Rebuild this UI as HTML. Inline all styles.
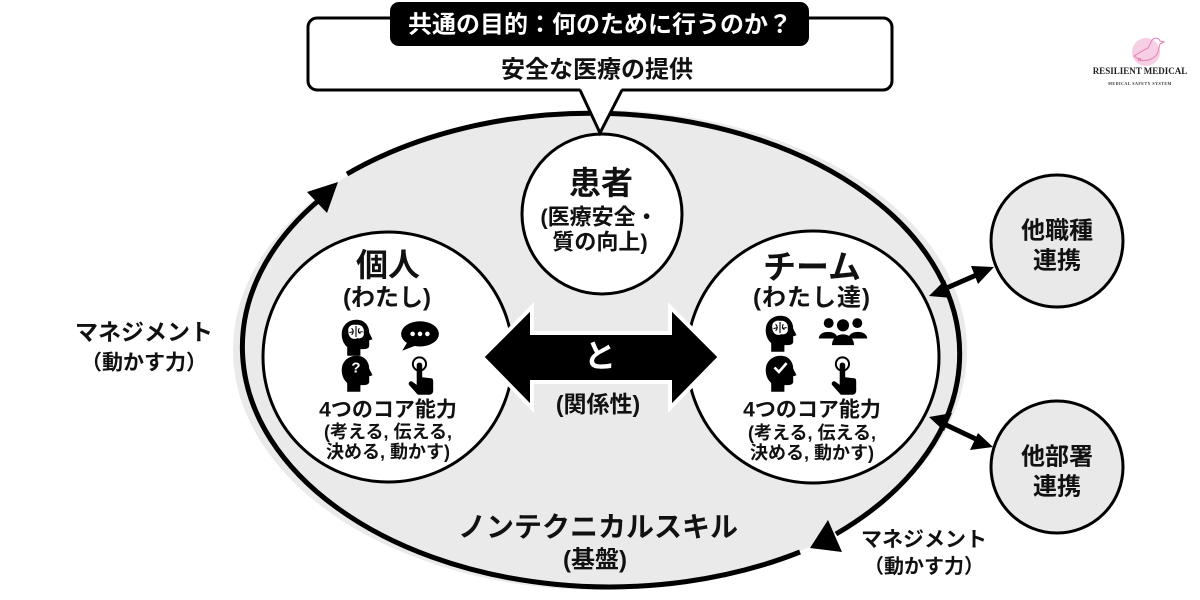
<!DOCTYPE html>
<html><head><meta charset="utf-8"><style>
html,body{margin:0;padding:0;background:#fff;}
svg{display:block;}
text{font-family:"Liberation Sans","Noto Sans CJK JP",sans-serif;font-weight:bold;}
</style></head><body>
<svg width="1200" height="600" viewBox="0 0 1200 600" xmlns="http://www.w3.org/2000/svg">
<rect width="1200" height="600" fill="#fff"/>
<!-- outer ellipse fill -->
<ellipse cx="600" cy="350" rx="367" ry="240" fill="#eaeaea"/>
<!-- ellipse strokes with gaps -->
<path d="M 347 174 A 367 240 0 1 1 836 534" fill="none" stroke="#000" stroke-width="5"/>
<path d="M 800 552 A 367 240 0 0 1 318 201" fill="none" stroke="#000" stroke-width="5"/>
<polygon points="338,182 307,192 327,213" fill="#000"/>
<polygon points="810,548 828,520 842,552" fill="#000"/>

<!-- inner circles -->
<circle cx="388" cy="357" r="125" fill="#fff" stroke="#000" stroke-width="3"/>
<circle cx="813" cy="357" r="126" fill="#fff" stroke="#000" stroke-width="3"/>
<circle cx="602" cy="214" r="80" fill="#fff" stroke="#000" stroke-width="3"/>

<!-- right circles -->
<circle cx="1057" cy="241" r="66" fill="#e9e9e9" stroke="#000" stroke-width="3"/>
<circle cx="1057" cy="467" r="66" fill="#e9e9e9" stroke="#000" stroke-width="3"/>

<!-- right double arrows -->
<g stroke="#000" stroke-width="5" fill="#000">
<line x1="942" y1="290" x2="981" y2="273"/>
<line x1="942" y1="423" x2="980" y2="441"/>
</g>
<polygon points="929,296 945,280 952,298" fill="#000"/>
<polygon points="994,267 978,284 971,266" fill="#000"/>
<polygon points="929,417 952,413 944,431" fill="#000"/>
<polygon points="993,447 970,450 978,433" fill="#000"/>

<!-- central double arrow -->
<polygon points="482,357 532,307 532,333 670,333 670,307 720,357 670,408 670,382 532,382 532,408" fill="#000" stroke="#fff" stroke-width="4" stroke-linejoin="miter"/>
<text x="600" y="356" font-size="32" fill="#fff" text-anchor="middle" dominant-baseline="central">と</text>
<text x="598" y="404" font-size="23" fill="#111" text-anchor="middle" dominant-baseline="central">(関係性)</text>

<!-- speech bubble -->
<rect x="308" y="18" width="584" height="72" rx="9" fill="#fff" stroke="#000" stroke-width="3"/>
<polygon points="580,88 600,133 622,88" fill="#fff"/>
<polyline points="580,90 600,133 622,90" fill="none" stroke="#000" stroke-width="3" stroke-linejoin="miter"/>
<rect x="390" y="2" width="419" height="44" rx="9" fill="#000"/>
<text x="600" y="25" font-size="24" fill="#fff" text-anchor="middle" dominant-baseline="central">共通の目的：何のために行うのか？</text>
<text x="597" y="70" font-size="24" fill="#111" text-anchor="middle" dominant-baseline="central">安全な医療の提供</text>

<!-- patient -->
<text x="601" y="183" font-size="32" fill="#111" text-anchor="middle" dominant-baseline="central">患者</text>
<text x="599" y="217" font-size="22" fill="#111" text-anchor="middle" dominant-baseline="central">(医療安全・</text>
<text x="600" y="242" font-size="22" fill="#111" text-anchor="middle" dominant-baseline="central">質の向上)</text>

<!-- individual -->
<text x="388" y="265" font-size="32" fill="#111" text-anchor="middle" dominant-baseline="central">個人</text>
<text x="387" y="298" font-size="24" fill="#111" text-anchor="middle" dominant-baseline="central">(わたし)</text>
<text x="388" y="410" font-size="21" fill="#111" text-anchor="middle" dominant-baseline="central">4つのコア能力</text>
<text x="388" y="432" font-size="18" fill="#111" text-anchor="middle" dominant-baseline="central">(考える, 伝える,</text>
<text x="388" y="452" font-size="18" fill="#111" text-anchor="middle" dominant-baseline="central">決める, 動かす)</text>

<!-- team -->
<text x="812" y="267" font-size="33" fill="#111" text-anchor="middle" dominant-baseline="central">チーム</text>
<text x="812" y="298" font-size="24" fill="#111" text-anchor="middle" dominant-baseline="central" letter-spacing="1">(わたし達)</text>
<text x="812" y="410" font-size="21" fill="#111" text-anchor="middle" dominant-baseline="central">4つのコア能力</text>
<text x="812" y="433" font-size="18" fill="#111" text-anchor="middle" dominant-baseline="central">(考える, 伝える,</text>
<text x="812" y="453" font-size="18" fill="#111" text-anchor="middle" dominant-baseline="central">決める, 動かす)</text>

<defs>
<path id="head" d="M -8 17 L -8 9 C -13 5 -14 -3 -12 -8 C -9 -15 -1 -17 5 -15 C 10 -13 12 -8 12 -4 L 15 2 L 12 3 L 12 8 C 12 10 10 11 7 11 L 4 11 L 4 17 Z" fill="#000"/>
<path id="hand" d="M -3 -9 C -3 -12 2 -12 2 -9 L 2 2 L 10 3 C 12 3 12 5 12 7 L 12 14 C 12 17 10 18 8 18 L -2 18 L -10 9 C -11 7 -9 5 -7 6 L -3 9 Z" fill="#000"/>
<g id="brainhead">
<use href="#head"/>
<path d="M -7 -5 C -8 -10 -3 -12 0 -11 C 4 -12 8 -9 7 -4 C 8 0 4 2 1 1 C -2 3 -7 1 -7 -5 Z" fill="#fff"/>
<path d="M -4 -8 Q -1 -5 -4 -2 M 0 -10 L 0 0 M 3 -8 Q 1 -5 4 -3 M -6 -4 L -2 -5 M 2 -4 L 6 -5" fill="none" stroke="#000" stroke-width="1"/>
</g>
</defs>
<!-- individual icons -->
<g transform="translate(356,337) scale(1.1)"><use href="#brainhead"/></g>
<g transform="translate(420,336) scale(1.05)">
<ellipse cx="0" cy="-2" rx="18" ry="12" fill="#000"/>
<polygon points="-12,6 -17,14 -4,9" fill="#000"/>
<circle cx="-7" cy="-2" r="2.2" fill="#fff"/><circle cx="0" cy="-2" r="2.2" fill="#fff"/><circle cx="7" cy="-2" r="2.2" fill="#fff"/>
</g>
<g transform="translate(356,373) scale(1.1)"><use href="#head"/></g>
<text x="356" y="368" font-size="15" fill="#fff" text-anchor="middle" dominant-baseline="central">?</text>
<g transform="translate(420,375) scale(1.1)">
<use href="#hand"/>
<circle cx="-0.5" cy="-10" r="6" fill="none" stroke="#000" stroke-width="1.8"/>
</g>
<!-- team icons -->
<g transform="translate(780,333) scale(1.1)"><use href="#brainhead"/></g>
<g transform="translate(843,333) scale(1.1)" fill="#000">
<circle cx="-13" cy="-9" r="4.5"/><circle cx="13" cy="-9" r="4.5"/><circle cx="0" cy="-7" r="5.5"/>
<path d="M -22 5 C -22 -3 -5 -3 -5 5 Z"/>
<path d="M 5 5 C 5 -3 22 -3 22 5 Z"/>
<path d="M -10 11 C -10 -2 10 -2 10 11 Z"/>
</g>
<g transform="translate(780,373) scale(1.1)">
<use href="#head"/>
<polyline points="-5,-5 -1,-1 6,-9" fill="none" stroke="#fff" stroke-width="2.4"/>
</g>
<g transform="translate(843,375) scale(1.1)">
<use href="#hand"/>
<circle cx="-0.5" cy="-10" r="6" fill="none" stroke="#000" stroke-width="1.8"/>
</g>

<!-- management labels -->
<text x="144" y="332" font-size="23" fill="#111" text-anchor="middle" dominant-baseline="central">マネジメント</text>
<text x="144" y="363" font-size="21" fill="#111" text-anchor="middle" dominant-baseline="central">（動かす力）</text>
<text x="924" y="540" font-size="21" fill="#111" text-anchor="middle" dominant-baseline="central">マネジメント</text>
<text x="924" y="567" font-size="20" fill="#111" text-anchor="middle" dominant-baseline="central">（動かす力）</text>

<!-- bottom label -->
<text x="598" y="527" font-size="28" fill="#111" text-anchor="middle" dominant-baseline="central">ノンテクニカルスキル</text>
<text x="595" y="560" font-size="24" fill="#111" text-anchor="middle" dominant-baseline="central">(基盤)</text>

<!-- right circle labels -->
<text x="1057" y="231" font-size="24" fill="#111" text-anchor="middle" dominant-baseline="central">他職種</text>
<text x="1057" y="261" font-size="24" fill="#111" text-anchor="middle" dominant-baseline="central">連携</text>
<text x="1057" y="457" font-size="24" fill="#111" text-anchor="middle" dominant-baseline="central">他部署</text>
<text x="1057" y="487" font-size="24" fill="#111" text-anchor="middle" dominant-baseline="central">連携</text>

<!-- logo -->
<circle cx="1146" cy="52" r="14" fill="#f6cfe5"/>
<path d="M 1134 56 C 1140 52 1144 50 1148 48 L 1152 40 C 1155 37 1159 38 1160 41 L 1164 42 L 1160 44 L 1158 52 C 1156 58 1148 62 1140 60 Z" fill="none" stroke="#e57db5" stroke-width="1"/>
<path d="M 1138 58 l 3 3 m 0 -3 l -3 3" stroke="#e57db5" stroke-width="1"/>
<text x="1140" y="74" font-size="9" fill="#222" text-anchor="middle" style="font-family:'Liberation Serif',serif;font-weight:bold;">RESILIENT MEDICAL</text>
<text x="1140" y="85" font-size="4" fill="#333" text-anchor="middle" letter-spacing="0.5" style="font-family:'Liberation Serif',serif;">MEDICAL SAFETY SYSTEM</text>
</svg>
</body></html>
